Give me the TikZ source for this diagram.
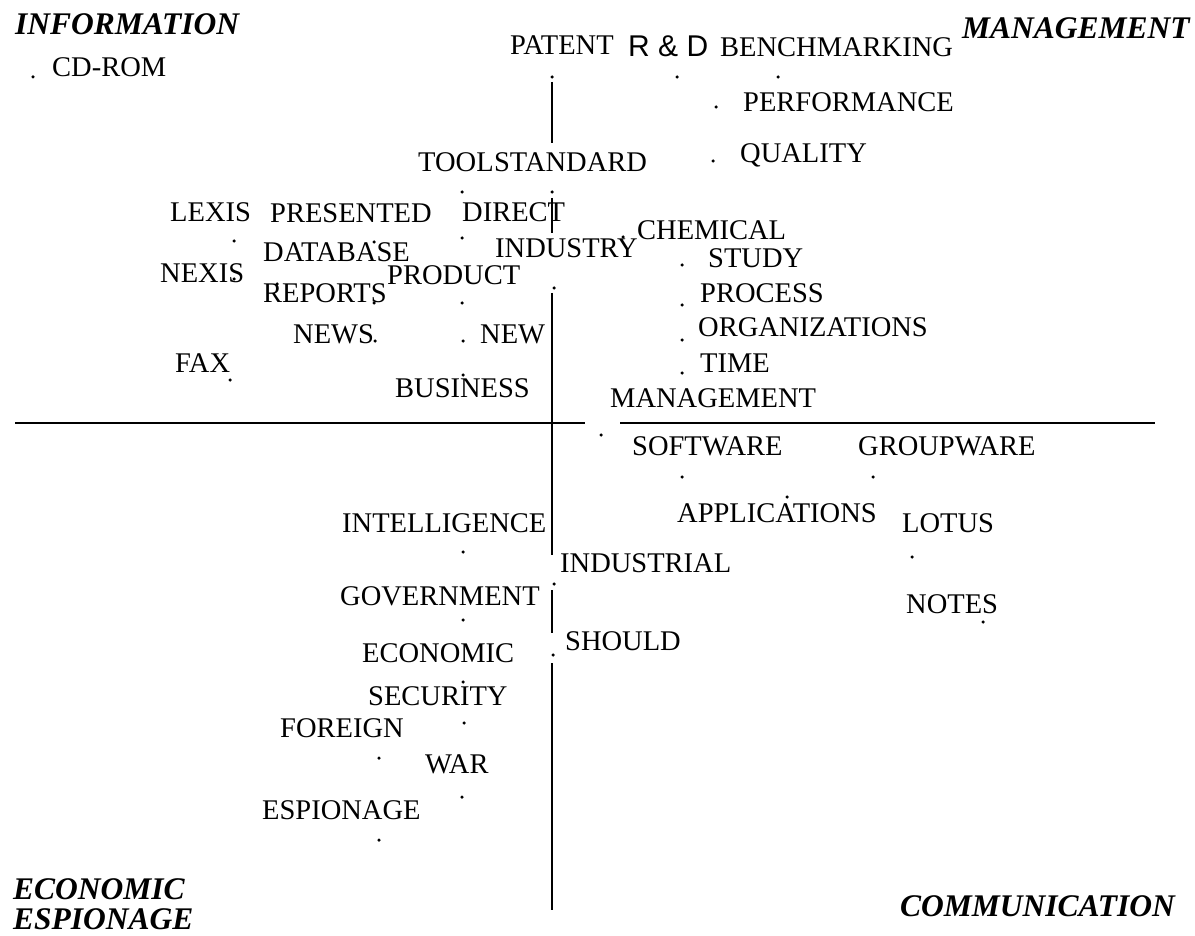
\documentclass[tikz,border=0pt]{standalone}
\usepackage{fontspec}
\setmainfont{Liberation Serif}
\newfontfamily\rdfont{Liberation Sans}
\usepackage{tikz}
\usetikzlibrary{positioning}
\tikzstyle{word} = [font=\fontsize{28.5}{30}\selectfont, inner sep=0pt, anchor=base west]
\tikzstyle{topic} = [font=\fontsize{31.5}{31}\selectfont\bfseries\itshape, inner sep=0pt, anchor=base west]
\tikzstyle{spot} = [circle, fill=black, inner sep=0pt, minimum size=3.5pt]
\tikzstyle{axis} = [draw, line width=2.6pt]

\begin{document}
\begin{tikzpicture}[x=1pt,y=-1pt]
            \useasboundingbox (0,0) rectangle (1195,936);
            % axes
            \coordinate (vtop) at (552,82);
            \coordinate (vbot) at (552,910);
            \coordinate (hleft) at (15,423);
            \coordinate (hright) at (1155,423);
            \path[axis] (vtop) -- (552,143);
            \path[axis] (552,198) -- (552,233);
            \path[axis] (552,293) -- (552,555);
            \path[axis] (552,590) -- (552,633);
            \path[axis] (552,663) -- (vbot);
            \path[axis] (hleft) -- (585,423);
            \path[axis] (620,423) -- (hright);
            % quadrant titles
            \node[topic] (info) at (15,35) {INFORMATION};
            \node[topic] (mgmt) at (962,39) {MANAGEMENT};
            \node[topic] (econ) at (13,899) {ECONOMIC};
            \node[topic, below=9pt of econ.south west, anchor=north west] (espio) {ESPIONAGE};
            \node[topic] (comm) at (900,916) {COMMUNICATION};
            % top left
            \node[word] (cdrom) at (52,77) {CD-ROM};
            \node[spot] (cdromdot) at (33,77) {};
            \node[word] (tool) at (418,172) {TOOL};
            \node[spot] (tooldot) at (462,192) {};
            \node[word, right=0pt of tool.base east, anchor=base west] (standard) {STANDARD};
            \node[spot] (standarddot) at (552,192) {};
            \node[word] (lexis) at (170,222) {LEXIS};
            \node[spot] (lexisdot) at (234,241) {};
            \node[word] (presented) at (270,223) {PRESENTED};
            \node[spot] (presenteddot) at (374,242) {};
            \node[word] (direct) at (462,222) {DIRECT};
            \node[spot] (directdot) at (462,238) {};
            \node[word] (database) at (263,262) {DATABASE};
            \node[spot] (databasedot) at (277,284) {};
            \node[word] (nexis) at (160,283) {NEXIS};
            \node[spot] (nexisdot) at (234,279) {};
            \node[word] (reports) at (263,302) {REPORTS};
            \node[spot] (reportsdot) at (374,303) {};
            \node[word] (product) at (387,285) {PRODUCT};
            \node[spot] (productdot) at (462,303) {};
            \node[word] (industry) at (495,258) {INDUSTRY};
            \node[spot] (industrydot) at (554,288) {};
            \node[word] (news) at (293,343) {NEWS};
            \node[spot] (newsdot) at (375,341) {};
            \node[word] (new) at (480,343) {NEW};
            \node[spot] (newdot) at (463,341) {};
            \node[word] (fax) at (175,372) {FAX};
            \node[spot] (faxdot) at (230,380) {};
            \node[word] (business) at (395,397) {BUSINESS};
            \node[spot] (businessdot) at (463,375) {};
            % top right
            \node[word] (patent) at (510,55) {PATENT};
            \node[spot] (patentdot) at (552,77) {};
            \node[word, font=\fontsize{30}{32}\selectfont\rdfont] (rd) at (628,57) {R \& D};
            \node[spot] (rddot) at (677,77) {};
            \node[word] (bench) at (720,57) {BENCHMARKING};
            \node[spot] (benchdot) at (778,77) {};
            \node[word] (perf) at (743,112) {PERFORMANCE};
            \node[spot] (perfdot) at (716,107) {};
            \node[word] (quality) at (740,163) {QUALITY};
            \node[spot] (qualitydot) at (713,161) {};
            \node[word] (chemical) at (637,240) {CHEMICAL};
            \node[spot] (chemicaldot) at (623,237) {};
            \node[word] (study) at (708,268) {STUDY};
            \node[spot] (studydot) at (682,265) {};
            \node[word] (process) at (700,302) {PROCESS};
            \node[spot] (processdot) at (682,305) {};
            \node[word] (orgs) at (698,337) {ORGANIZATIONS};
            \node[spot] (orgsdot) at (682,340) {};
            \node[word] (time) at (700,372) {TIME};
            \node[spot] (timedot) at (682,373) {};
            \node[word] (manage) at (610,407) {MANAGEMENT};
            \node[spot] (managedot) at (601,435) {};
            % bottom right
            \node[word] (software) at (632,455) {SOFTWARE};
            \node[spot] (softwaredot) at (682,477) {};
            \node[word] (groupware) at (858,455) {GROUPWARE};
            \node[spot] (groupwaredot) at (873,477) {};
            \node[word] (apps) at (677,522) {APPLICATIONS};
            \node[spot] (appsdot) at (787,497) {};
            \node[word] (lotus) at (902,532) {LOTUS};
            \node[spot] (lotusdot) at (912,557) {};
            \node[word] (notes) at (906,613) {NOTES};
            \node[spot] (notesdot) at (983,622) {};
            \node[word] (industrial) at (560,572) {INDUSTRIAL};
            \node[spot] (industrialdot) at (554,584) {};
            \node[word] (should) at (565,650) {SHOULD};
            \node[spot] (shoulddot) at (553,655) {};
            % bottom left
            \node[word] (intel) at (342,532) {INTELLIGENCE};
            \node[spot] (inteldot) at (463,552) {};
            \node[word] (gov) at (340,605) {GOVERNMENT};
            \node[spot] (govdot) at (463,620) {};
            \node[word] (economic) at (362,662) {ECONOMIC};
            \node[spot] (economicdot) at (463,682) {};
            \node[word] (security) at (368,705) {SECURITY};
            \node[spot] (securitydot) at (464,723) {};
            \node[word] (foreign) at (280,737) {FOREIGN};
            \node[spot] (foreigndot) at (379,758) {};
            \node[word] (war) at (425,773) {WAR};
            \node[spot] (wardot) at (462,797) {};
            \node[word] (espionage) at (262,819) {ESPIONAGE};
            \node[spot] (espionagedot) at (379,840) {};
\end{tikzpicture}
\end{document}
